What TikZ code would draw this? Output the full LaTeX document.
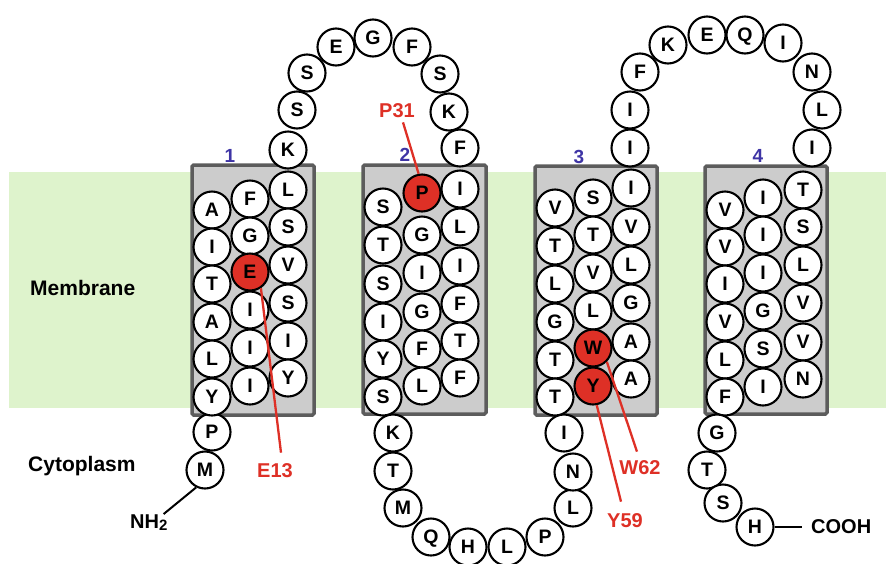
\documentclass[tikz,border=0pt]{standalone}
\usepackage{fontspec}
\setmainfont{Liberation Sans}
\definecolor{memgreen}{RGB}{222,243,204}
\definecolor{boxgray}{RGB}{204,204,204}
\definecolor{boxedge}{RGB}{92,92,92}
\definecolor{hred}{RGB}{222,48,38}
\definecolor{hnum}{RGB}{62,52,165}
\begin{document}
\begin{tikzpicture}[x=1pt,y=-1pt,
  res/.style={circle,draw=black,line width=2.1pt,fill=white,minimum size=37pt,
    inner sep=0pt,text height=13.9pt,text depth=0pt,
    font=\fontsize{19.5}{19.5}\selectfont\bfseries},
  key/.style={res,fill=hred},
  helixbox/.style={draw=boxedge,fill=boxgray,line width=3.5pt,rounded corners=1.5pt},
  region/.style={anchor=west,inner sep=0pt,font=\fontsize{21}{21}\selectfont\bfseries},
  tag/.style={text=hred,inner sep=0pt,text height=14.3pt,text depth=0pt,
    font=\fontsize{20}{20}\selectfont\bfseries},
  pointer/.style={draw=hred,line width=2.3pt},
  hnumber/.style={text=hnum,inner sep=0pt,font=\fontsize{19}{19}\selectfont\bfseries},
  terminal/.style={inner sep=0pt,font=\fontsize{20}{20}\selectfont\bfseries},
  tail/.style={draw=black,line width=2pt}]

\useasboundingbox (0,0) rectangle (886,563);

% membrane band
\fill[memgreen] (9,172) rectangle (886,408);

% helix boxes
\draw[helixbox] (192,165) rectangle (314,415);
\draw[helixbox] (363,165) rectangle (486,414);
\draw[helixbox] (535,166) rectangle (657,415);
\draw[helixbox] (705,166) rectangle (827,414);

% helix numbers
\node[hnumber] (n1) at (230,156) {1};
\node[hnumber] (n2) at (405,155) {2};
\node[hnumber] (n3) at (579,157) {3};
\node[hnumber] (n4) at (758,156) {4};

% region labels
\node[region] (memb) at (30,288) {Membrane};
\node[region] (cyto) at (28,466) {Cytoplasm};

% N-terminus
\node[res] (nP) at (212,432) {P};
\node[res] (nM) at (205,470) {M};

% helix 1
\foreach \l/\y [count=\i] in {A/210,I/247,T/284,A/322,L/359,Y/397}
  \node[res] (ha\i) at (212,\y) {\l};
\foreach \l/\y [count=\i] in {F/199,G/236}
  \node[res] (hb\i) at (250,\y) {\l};
\node[key] (E13) at (250,272) {E};
\foreach \l/\y [count=\i] in {I/310,I/348,I/386}
  \node[res] (hc\i) at (250,\y) {\l};
\foreach \l/\y [count=\i] in {L/190,S/227,V/265,S/303,I/341,Y/378}
  \node[res] (hd\i) at (288,\y) {\l};

% first extracellular loop
\foreach \l/\x/\y [count=\i] in {K/288/150,S/297/110,S/307/73,E/336/47,G/373/38,
    F/412/47,S/440/74,K/449/112,F/460/148}
  \node[res] (la\i) at (\x,\y) {\l};

% helix 2
\foreach \l/\y [count=\i] in {S/207,T/245,S/284,I/322,Y/359,S/397}
  \node[res] (he\i) at (383,\y) {\l};
\node[key] (P31) at (422,193) {P};
\foreach \l/\y [count=\i] in {G/235,I/273,G/312,F/349,L/386}
  \node[res] (hf\i) at (422,\y) {\l};
\foreach \l/\y [count=\i] in {I/189,L/227,I/266,F/304,T/341,F/378}
  \node[res] (hg\i) at (460,\y) {\l};

% cytoplasmic loop
\foreach \l/\x/\y [count=\i] in {K/393/433,T/393/471,M/403/508,Q/431/537,H/468/547,
    L/507/547,P/545/537,L/573/508,N/573/472,I/564/433}
  \node[res] (lb\i) at (\x,\y) {\l};

% helix 3
\foreach \l/\y [count=\i] in {V/208,T/246,L/284,G/322,T/360,T/397}
  \node[res] (hh\i) at (555,\y) {\l};
\foreach \l/\y [count=\i] in {S/198,T/235,V/273,L/311}
  \node[res] (hi\i) at (593,\y) {\l};
\node[key] (W62) at (593,348) {W};
\node[key] (Y59) at (593,386) {Y};
\foreach \l/\y [count=\i] in {I/188,V/227,L/265,G/303,A/342,A/379}
  \node[res] (hj\i) at (631,\y) {\l};

% second extracellular loop
\foreach \l/\x/\y [count=\i] in {I/630/148,I/630/110,F/640/72,K/668/45,E/707/35,
    Q/745/35,I/783/43,N/812/72,L/822/110,I/812/148}
  \node[res] (lc\i) at (\x,\y) {\l};

% helix 4
\foreach \l/\y [count=\i] in {V/210,V/247,I/284,V/322,L/360,F/397}
  \node[res] (hk\i) at (725,\y) {\l};
\foreach \l/\y [count=\i] in {I/198,I/235,I/273,G/311,S/349,I/387}
  \node[res] (hl\i) at (763,\y) {\l};
\foreach \l/\y [count=\i] in {T/190,S/227,L/265,V/303,V/342,N/379}
  \node[res] (hm\i) at (803,\y) {\l};

% C-terminus
\node[res] (cG) at (717,433) {G};
\node[res] (cT) at (707,470) {T};
\node[res] (cS) at (723,503) {S};
\node[res] (cH) at (755,527) {H};

% termini labels
\node[terminal,anchor=base west] (nh2) at (130,528) {NH\raisebox{-2pt}{\fontsize{15}{15}\selectfont 2}};
\node[terminal,anchor=west] (cooh) at (811,527) {COOH};
\draw[tail] (nM.-117) -- ([xshift=-4pt]nh2.north east);
\draw[tail] (cH.east) -- ([xshift=-9pt]cooh.west);

% highlighted residues
\node[tag] (tP31) at (397,110) {P31};
\node[tag] (tE13) at (275,470) {E13};
\node[tag] (tW62) at (640,467) {W62};
\node[tag] (tY59) at (625,520) {Y59};
\draw[pointer] ([xshift=6pt,yshift=-5pt]tP31.south) -- (P31.100);
\draw[pointer] (E13.-56) -- ([xshift=6pt,yshift=10pt]tE13.north);
\draw[pointer] (W62.-45) -- ([xshift=-3pt,yshift=8pt]tW62.north);
\draw[pointer] (Y59.-79) -- ([xshift=-4pt,yshift=11pt]tY59.north);
\end{tikzpicture}
\end{document}
